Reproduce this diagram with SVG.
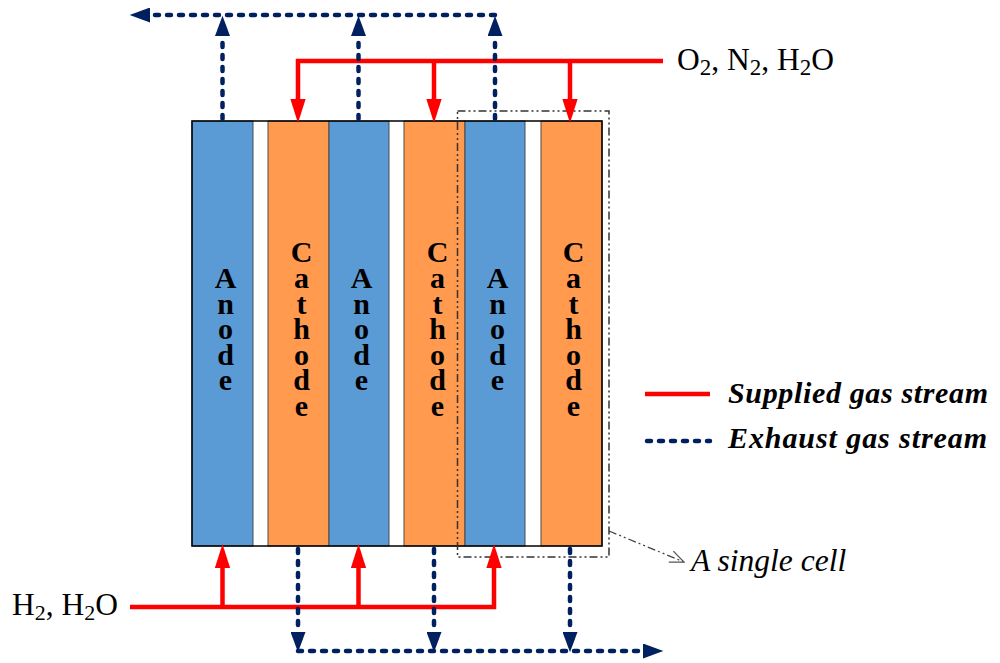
<svg xmlns="http://www.w3.org/2000/svg" width="1000" height="663" viewBox="0 0 1000 663">
<style>
.anode{fill:#5B9BD5;stroke:#4a4a4a;stroke-width:1}
.cathode{fill:#FF9A4F;stroke:#4a4a4a;stroke-width:1}
.lbl{font-family:"Liberation Serif",serif;font-weight:bold;font-size:30px;fill:#000;text-anchor:middle}
.sup{fill:none;stroke:#FF0000;stroke-width:4.5}
.exh{fill:none;stroke:#002060;stroke-width:4.5;stroke-dasharray:4 8;stroke-linecap:round}
.txt{font-family:"Liberation Serif",serif;font-size:31.5px;fill:#000}
.leg{font-family:"Liberation Serif",serif;font-size:30px;font-weight:bold;font-style:italic;fill:#000}
.cellbox{fill:none;stroke:#333;stroke-width:1.5;stroke-dasharray:8 3 2 3 2 3}
</style>
<defs>
<marker id="ar" markerUnits="userSpaceOnUse" markerWidth="24" markerHeight="16" viewBox="0 0 22 14" refX="0" refY="7" orient="auto">
<path d="M0,0 L22,7 L0,14 z" fill="#FF0000"/>
</marker>
<marker id="an" markerUnits="userSpaceOnUse" markerWidth="21" markerHeight="15" viewBox="0 0 19 14" refX="0" refY="7" orient="auto">
<path d="M0,0 L19,7 L0,14 z" fill="#002060"/>
</marker>
<marker id="ao" markerUnits="userSpaceOnUse" markerWidth="16" markerHeight="14" viewBox="0 0 16 14" refX="15" refY="7" orient="auto">
<path d="M1,1 L15,7 L1,13" fill="none" stroke="#555" stroke-width="1.3"/>
</marker>
</defs>

<g id="anode1"><rect class="anode" x="192" y="121" width="61" height="425"/><text class="lbl"><tspan x="225.5" y="288">A</tspan><tspan x="225.5" y="313.5">n</tspan><tspan x="225.5" y="339">o</tspan><tspan x="225.5" y="364.5">d</tspan><tspan x="225.5" y="390">e</tspan></text></g>
<g id="cathode1"><rect class="cathode" x="268" y="121" width="61" height="425"/><text class="lbl"><tspan x="301.5" y="262">C</tspan><tspan x="301.5" y="288">a</tspan><tspan x="301.5" y="313.5">t</tspan><tspan x="301.5" y="339">h</tspan><tspan x="301.5" y="364.5">o</tspan><tspan x="301.5" y="390">d</tspan><tspan x="301.5" y="416">e</tspan></text></g>
<g id="anode2"><rect class="anode" x="329" y="121" width="60" height="425"/><text class="lbl"><tspan x="361.5" y="288">A</tspan><tspan x="361.5" y="313.5">n</tspan><tspan x="361.5" y="339">o</tspan><tspan x="361.5" y="364.5">d</tspan><tspan x="361.5" y="390">e</tspan></text></g>
<g id="cathode2"><rect class="cathode" x="404" y="121" width="61" height="425"/><text class="lbl"><tspan x="437.5" y="262">C</tspan><tspan x="437.5" y="288">a</tspan><tspan x="437.5" y="313.5">t</tspan><tspan x="437.5" y="339">h</tspan><tspan x="437.5" y="364.5">o</tspan><tspan x="437.5" y="390">d</tspan><tspan x="437.5" y="416">e</tspan></text></g>
<g id="anode3"><rect class="anode" x="465" y="121" width="60" height="425"/><text class="lbl"><tspan x="497.5" y="288">A</tspan><tspan x="497.5" y="313.5">n</tspan><tspan x="497.5" y="339">o</tspan><tspan x="497.5" y="364.5">d</tspan><tspan x="497.5" y="390">e</tspan></text></g>
<g id="cathode3"><rect class="cathode" x="541" y="121" width="61" height="425"/><text class="lbl"><tspan x="573.5" y="262">C</tspan><tspan x="573.5" y="288">a</tspan><tspan x="573.5" y="313.5">t</tspan><tspan x="573.5" y="339">h</tspan><tspan x="573.5" y="364.5">o</tspan><tspan x="573.5" y="390">d</tspan><tspan x="573.5" y="416">e</tspan></text></g>
<g id="stack-outline"><rect x="192" y="121" width="410" height="425" fill="none" stroke="#000" stroke-width="1.5"/></g>

<g id="single-cell"><rect class="cellbox" x="457.5" y="111" width="151.5" height="446"/>
<text class="txt" x="691" y="571" font-size="32" font-style="italic">A single cell</text></g>

<g id="connectors">
<path class="sup" d="M663,61 H298 V99" marker-end="url(#ar)"/>
<path class="sup" d="M434,61 V99" marker-end="url(#ar)"/>
<path class="sup" d="M570,61 V99" marker-end="url(#ar)"/>
<path class="sup" d="M130,607 H494 V568" marker-end="url(#ar)"/>
<path class="sup" d="M222.5,607 V568" marker-end="url(#ar)"/>
<path class="sup" d="M358.5,607 V568" marker-end="url(#ar)"/>

<path class="exh" d="M222.5,119 V36" marker-end="url(#an)"/>
<path class="exh" d="M358.5,119 V36" marker-end="url(#an)"/>
<path class="exh" d="M495,119 V36" marker-end="url(#an)"/>
<path class="exh" d="M495,15 H150" marker-end="url(#an)"/>
<path class="exh" d="M298,549 V632" marker-end="url(#an)"/>
<path class="exh" d="M434,549 V632" marker-end="url(#an)"/>
<path class="exh" d="M570,549 V632" marker-end="url(#an)"/>
<path class="exh" d="M298,651 H643" marker-end="url(#an)"/>

<path d="M609,531 L684,562" fill="none" stroke="#444" stroke-width="1.3" stroke-dasharray="8 3 2 3 2 3" marker-end="url(#ao)"/>
</g>

<g id="label-cathode-feed"><text class="txt" x="677" y="70">O<tspan font-size="23" dy="5">2</tspan><tspan dy="-5">, N</tspan><tspan font-size="23" dy="5">2</tspan><tspan dy="-5">, H</tspan><tspan font-size="23" dy="5">2</tspan><tspan dy="-5">O</tspan></text></g>
<g id="label-anode-feed"><text class="txt" x="12" y="615" font-size="30.5">H<tspan font-size="22" dy="5">2</tspan><tspan dy="-5">, H</tspan><tspan font-size="22" dy="5">2</tspan><tspan dy="-5">O</tspan></text></g>

<g id="legend">
<line x1="645" y1="394" x2="710" y2="394" class="sup"/>
<line x1="647" y1="441" x2="710" y2="441" class="exh"/>
<text class="leg" x="728" y="403" textLength="260" lengthAdjust="spacing">Supplied gas stream</text>
<text class="leg" x="728" y="448" textLength="259" lengthAdjust="spacing">Exhaust gas stream</text>
</g>
</svg>
